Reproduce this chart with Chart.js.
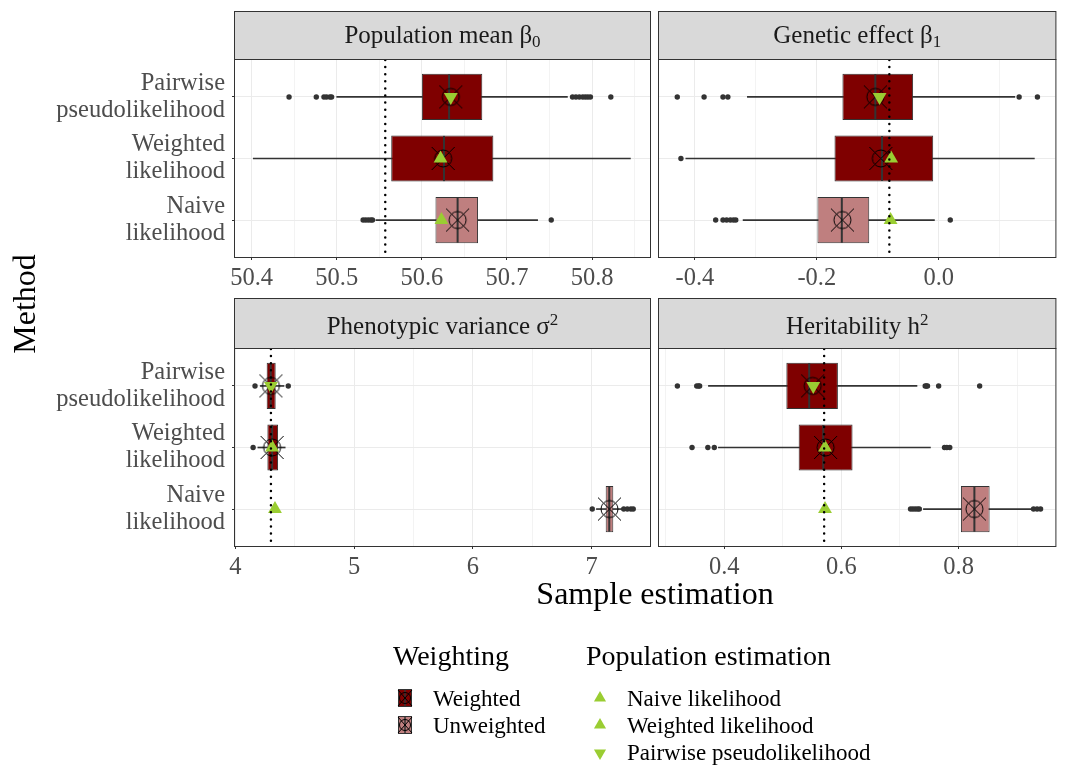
<!DOCTYPE html>
<html>
<head>
<meta charset="utf-8">
<script src="https://cdn.jsdelivr.net/npm/chart.js@4/dist/chart.umd.min.js"></script>
<style>
  html, body { margin: 0; padding: 0; width: 1067px; height: 767px; overflow: hidden; background: #ffffff; }
  .layer { position: absolute; left: 0; top: 0; width: 1080px; height: 767px; }
</style>
</head>
<body>
<div class="layer"><canvas id="panelBeta0"></canvas></div>
<div class="layer"><canvas id="panelBeta1"></canvas></div>
<div class="layer"><canvas id="panelSigma2"></canvas></div>
<div class="layer"><canvas id="panelH2"></canvas></div>
<script>
// ---- categories ----
const methodLabels = [['Pairwise', 'pseudolikelihood'], ['Weighted', 'likelihood'], ['Naive', 'likelihood']];
const methodWeighting = ['Weighted', 'Weighted', 'Unweighted'];
const methodPopulationShape = ['down', 'up', 'up'];
const rowPositions = [1, 2, 3];

// ---- Population mean beta0 ----
const b0Lower  = [50.500, 50.402, 50.546];
const b0Q1     = [50.600, 50.564, 50.616];
const b0Median = [50.632, 50.626, 50.642];
const b0Q3     = [50.671, 50.684, 50.666];
const b0Upper  = [50.771, 50.845, 50.736];
const b0Mean   = [50.634, 50.625, 50.642];
const b0Outliers = [
  [50.444, 50.476, 50.485, 50.488, 50.492, 50.494, 50.777, 50.781, 50.785, 50.789, 50.792, 50.795, 50.798, 50.822],
  [],
  [50.531, 50.534, 50.537, 50.540, 50.542, 50.752]
];
const b0Population = [50.634, 50.622, 50.623];
const b0True = 50.557;
const b0Ticks = [50.4, 50.5, 50.6, 50.7, 50.8];
const b0TickLabels = ['50.4', '50.5', '50.6', '50.7', '50.8'];
const b0MinorTicks = [50.45, 50.55, 50.65, 50.75, 50.85];

// ---- Genetic effect beta1 ----
const b1Lower  = [-0.314, -0.415, -0.321];
const b1Q1     = [-0.158, -0.171, -0.199];
const b1Median = [-0.104, -0.093, -0.159];
const b1Q3     = [-0.042, -0.009, -0.114];
const b1Upper  = [0.125, 0.157, -0.007];
const b1Mean   = [-0.104, -0.095, -0.158];
const b1Outliers = [
  [-0.429, -0.385, -0.354, -0.346, 0.132, 0.162],
  [-0.423],
  [-0.366, -0.354, -0.348, -0.342, -0.337, -0.333, 0.019]
];
const b1Population = [-0.097, -0.078, -0.079];
const b1True = -0.081;
const b1Ticks = [-0.4, -0.2, 0.0];
const b1TickLabels = ['-0.4', '-0.2', '0.0'];
const b1MinorTicks = [-0.3, -0.1, 0.1];

// ---- Phenotypic variance sigma^2 ----
const s2Lower  = [4.21, 4.19, 7.04];
const s2Q1     = [4.264, 4.270, 7.118];
const s2Median = [4.298, 4.310, 7.148];
const s2Q3     = [4.340, 4.360, 7.182];
const s2Upper  = [4.41, 4.42, 7.26];
const s2Mean   = [4.30, 4.31, 7.15];
const s2Outliers = [
  [4.166, 4.446],
  [4.150],
  [7.005, 7.270, 7.300, 7.330, 7.350]
];
const s2Population = [4.30, 4.31, 4.334];
const s2True = 4.30;
const s2Ticks = [4, 5, 6, 7];
const s2TickLabels = ['4', '5', '6', '7'];
const s2MinorTicks = [4.5, 5.5, 6.5];

// ---- Heritability h^2 ----
const h2Lower  = [0.373, 0.390, 0.740];
const h2Q1     = [0.506, 0.527, 0.804];
const h2Median = [0.545, 0.569, 0.827];
const h2Q3     = [0.594, 0.619, 0.853];
const h2Upper  = [0.729, 0.752, 0.926];
const h2Mean   = [0.551, 0.573, 0.827];
const h2Outliers = [
  [0.320, 0.353, 0.356, 0.358, 0.743, 0.745, 0.747, 0.766, 0.836],
  [0.345, 0.372, 0.383, 0.776, 0.780, 0.785],
  [0.718, 0.722, 0.726, 0.730, 0.733, 0.928, 0.934, 0.940]
];
const h2Population = [0.552, 0.572, 0.572];
const h2True = 0.5705;
const h2Ticks = [0.4, 0.6, 0.8];
const h2TickLabels = ['0.4', '0.6', '0.8'];
const h2MinorTicks = [0.3, 0.5, 0.7, 0.9];

// ---- legend ----
const weightingLevels = ['Weighted', 'Unweighted'];
const populationLevels = ['Naive likelihood', 'Weighted likelihood', 'Pairwise pseudolikelihood'];
const populationLevelShape = ['up', 'up', 'down'];

// ---- styling ----
const FONT = "'Liberation Serif', 'Times New Roman', serif";
const weightingColors = { Weighted: '#7F0000', Unweighted: '#BF7F7F' };
const populationColor = '#9ACD32';
const CANVAS_W = 1080, CANVAS_H = 767;
const X_AXIS_H = 40;

// mean marker: open circle with a cross through it
function makeMeanGlyph(r, arm) {
  const s = Math.ceil(arm * 2 + 4);
  const c = document.createElement('canvas');
  c.width = s; c.height = s;
  const g = c.getContext('2d');
  const m = s / 2;
  g.strokeStyle = '#000';
  g.lineWidth = 1;
  g.beginPath(); g.arc(m, m, r, 0, Math.PI * 2); g.stroke();
  g.beginPath();
  g.moveTo(m - arm, m - arm); g.lineTo(m + arm, m + arm);
  g.moveTo(m + arm, m - arm); g.lineTo(m - arm, m + arm);
  g.stroke();
  return c;
}
const meanGlyph = makeMeanGlyph(8.5, 11.5);

function drawRichText(ctx, parts, cx, baseline) {
  let total = 0;
  parts.forEach(p => {
    ctx.font = p.size + 'px ' + FONT;
    p.w = ctx.measureText(p.text).width;
    total += p.w;
  });
  let x = cx - total / 2;
  ctx.textAlign = 'left';
  ctx.textBaseline = 'alphabetic';
  parts.forEach(p => {
    ctx.font = p.size + 'px ' + FONT;
    ctx.fillText(p.text, x, baseline + p.dy);
    x += p.w;
  });
}

// strip header + panel border
const panelFrame = {
  id: 'panelFrame',
  afterDraw(chart, args, opts) {
    const { ctx, chartArea: a } = chart;
    ctx.save();
    const l = a.left - 0.5, r = a.right + 0.5;
    ctx.fillStyle = '#D9D9D9';
    ctx.fillRect(l, opts.stripTop, r - l, a.top - opts.stripTop);
    ctx.strokeStyle = '#333333';
    ctx.lineWidth = 1;
    ctx.strokeRect(l, opts.stripTop + 0.5, r - l, a.top - opts.stripTop - 1);
    ctx.strokeRect(l, a.top - 0.5, r - l, a.bottom - a.top + 1);
    ctx.fillStyle = '#1A1A1A';
    drawRichText(ctx, opts.title.map(p => Object.assign({}, p)), (a.left + a.right) / 2, opts.titleBaseline);
    ctx.restore();
  }
};

function triangle(ctx, cx, cy, r, down) {
  const s = down ? -1 : 1;
  ctx.beginPath();
  ctx.moveTo(cx, cy - s * r);
  ctx.lineTo(cx + r * Math.sin(Math.PI / 3), cy + s * r / 2);
  ctx.lineTo(cx - r * Math.sin(Math.PI / 3), cy + s * r / 2);
  ctx.closePath();
  ctx.fill();
}

// axis titles and the two legends
const pageDecor = {
  id: 'pageDecor',
  afterDraw(chart) {
    const ctx = chart.ctx;
    ctx.save();
    ctx.fillStyle = '#000';
    ctx.font = '32px ' + FONT;
    ctx.textAlign = 'center';
    ctx.textBaseline = 'alphabetic';
    ctx.fillText('Sample estimation', 655, 604);
    ctx.save();
    ctx.translate(35, 304);
    ctx.rotate(-Math.PI / 2);
    ctx.fillText('Method', 0, 0);
    ctx.restore();

    ctx.textAlign = 'left';
    ctx.font = '28px ' + FONT;
    ctx.fillText('Weighting', 393, 665);
    ctx.fillText('Population estimation', 586, 665);

    ctx.font = '23px ' + FONT;
    weightingLevels.forEach((lvl, i) => {
      const cy = 698 + i * 27, cx = 405;
      ctx.fillStyle = weightingColors[lvl];
      ctx.fillRect(cx - 7, cy - 9, 14, 18);
      ctx.strokeStyle = '#333';
      ctx.lineWidth = 1;
      ctx.strokeRect(cx - 6.5, cy - 8.5, 13, 17);
      ctx.lineWidth = 1.5;
      ctx.beginPath(); ctx.moveTo(cx, cy - 9); ctx.lineTo(cx, cy + 9); ctx.stroke();
      ctx.strokeStyle = '#000';
      ctx.lineWidth = 1;
      ctx.beginPath(); ctx.arc(cx, cy, 5.5, 0, Math.PI * 2); ctx.stroke();
      ctx.beginPath();
      ctx.moveTo(cx - 7, cy - 8); ctx.lineTo(cx + 7, cy + 8);
      ctx.moveTo(cx + 7, cy - 8); ctx.lineTo(cx - 7, cy + 8);
      ctx.stroke();
      ctx.fillStyle = '#000';
      ctx.fillText(lvl, 433, 706 + i * 27);
    });
    populationLevels.forEach((lvl, i) => {
      const cy = 698 + i * 27;
      ctx.fillStyle = populationColor;
      triangle(ctx, 600, populationLevelShape[i] === 'down' ? cy + 1 : cy, 7, populationLevelShape[i] === 'down');
      ctx.fillStyle = '#000';
      ctx.fillText(lvl, 627, 706 + i * 27);
    });
    ctx.restore();
  }
};

const panels = [
  { canvas: 'panelBeta0', title: [{ text: 'Population mean β', size: 25, dy: 0 }, { text: '0', size: 17, dy: 4 }],
    lower: b0Lower, q1: b0Q1, median: b0Median, q3: b0Q3, upper: b0Upper, mean: b0Mean, outliers: b0Outliers,
    population: b0Population, truth: b0True, ticks: b0Ticks, tickLabels: b0TickLabels, minor: b0MinorTicks,
    min: 50.3805, max: 50.868, frame: { left: 235, right: 650, top: 60, bottom: 257, stripTop: 11, titleBaseline: 43 }, showY: true },
  { canvas: 'panelBeta1', title: [{ text: 'Genetic effect β', size: 25, dy: 0 }, { text: '1', size: 17, dy: 4 }],
    lower: b1Lower, q1: b1Q1, median: b1Median, q3: b1Q3, upper: b1Upper, mean: b1Mean, outliers: b1Outliers,
    population: b1Population, truth: b1True, ticks: b1Ticks, tickLabels: b1TickLabels, minor: b1MinorTicks,
    min: -0.459, max: 0.1915, frame: { left: 659, right: 1074, top: 60, bottom: 257, stripTop: 11, titleBaseline: 43 }, showY: false },
  { canvas: 'panelSigma2', title: [{ text: 'Phenotypic variance σ', size: 25, dy: 0 }, { text: '2', size: 17, dy: -9 }],
    lower: s2Lower, q1: s2Q1, median: s2Median, q3: s2Q3, upper: s2Upper, mean: s2Mean, outliers: s2Outliers,
    population: s2Population, truth: s2True, ticks: s2Ticks, tickLabels: s2TickLabels, minor: s2MinorTicks,
    min: 3.9975, max: 7.491, frame: { left: 235, right: 650, top: 349, bottom: 546, stripTop: 298, titleBaseline: 334 }, showY: true },
  { canvas: 'panelH2', title: [{ text: 'Heritability h', size: 25, dy: 0 }, { text: '2', size: 17, dy: -9 }],
    lower: h2Lower, q1: h2Q1, median: h2Median, q3: h2Q3, upper: h2Upper, mean: h2Mean, outliers: h2Outliers,
    population: h2Population, truth: h2True, ticks: h2Ticks, tickLabels: h2TickLabels, minor: h2MinorTicks,
    min: 0.2886, max: 0.9653, frame: { left: 659, right: 1074, top: 349, bottom: 546, stripTop: 298, titleBaseline: 334 }, showY: false }
];

function isMajorTick(p, v) {
  return p.ticks.some(t => Math.abs(t - v) < 1e-9);
}

function buildDatasets(p) {
  return [
    { type: 'bar', label: 'whiskers', grouped: false, order: 7,
      data: rowPositions.map((y, i) => ({ x: [p.lower[i], p.upper[i]], y })),
      backgroundColor: '#333333', borderWidth: 0, barThickness: 1 },
    { type: 'bar', label: 'boxes', grouped: false, order: 6,
      data: rowPositions.map((y, i) => ({ x: [p.q1[i], p.q3[i]], y })),
      backgroundColor: methodWeighting.map(w => weightingColors[w]),
      borderColor: '#333333', borderWidth: 1, borderSkipped: false,
      barPercentage: 0.75, categoryPercentage: 1 },
    { type: 'scatter', label: 'median', order: 5,
      data: rowPositions.map((y, i) => ({ x: p.median[i], y })),
      pointStyle: 'line', pointRotation: 90, pointRadius: 22.6,
      pointBorderColor: '#333333', pointBorderWidth: 2 },
    { type: 'scatter', label: 'outliers', order: 4,
      data: p.outliers.flatMap((vals, i) => vals.map(v => ({ x: v, y: rowPositions[i] }))),
      pointStyle: 'circle', pointRadius: 2.7, pointBackgroundColor: '#333333', pointBorderWidth: 0 },
    { type: 'scatter', label: 'mean', order: 3,
      data: rowPositions.map((y, i) => ({ x: p.mean[i], y })),
      pointStyle: meanGlyph },
    { type: 'scatter', label: 'population', order: 2,
      data: rowPositions.map((y, i) => ({ x: p.population[i], y })),
      pointStyle: 'triangle', pointRadius: 8,
      pointRotation: methodPopulationShape.map(s => s === 'down' ? 180 : 0),
      pointBackgroundColor: populationColor, pointBorderWidth: 0 },
    { type: 'line', label: 'true value', order: 1,
      data: [{ x: p.truth, y: 0.4 }, { x: p.truth, y: 3.6 }],
      borderColor: '#000000', borderWidth: 2.5, borderDash: [0, 7.1], borderCapStyle: 'round',
      pointRadius: 0, fill: false }
  ];
}

panels.forEach((p, idx) => {
  const f = p.frame;
  const yW = p.showY ? 230 : 0;
  const allTicks = p.ticks.concat(p.minor).sort((a, b) => a - b);
  const plugins = [panelFrame];
  if (idx === panels.length - 1) plugins.push(pageDecor);
  new Chart(document.getElementById(p.canvas), {
    type: 'bar',
    data: { datasets: buildDatasets(p) },
    plugins,
    options: {
      indexAxis: 'y',
      responsive: true,
      maintainAspectRatio: false,
      animation: false,
      events: [],
      layout: { padding: { left: f.left - yW, top: f.top, right: CANVAS_W - f.right, bottom: CANVAS_H - f.bottom - X_AXIS_H } },
      plugins: {
        legend: { display: false },
        tooltip: { enabled: false },
        panelFrame: { stripTop: f.stripTop, titleBaseline: f.titleBaseline, title: p.title }
      },
      scales: {
        x: {
          type: 'linear', min: p.min, max: p.max, offset: false,
          afterBuildTicks: s => { s.ticks = allTicks.map(v => ({ value: v })); },
          afterFit: s => { s.height = X_AXIS_H; },
          border: { display: false },
          grid: {
            offset: false,
            color: c => isMajorTick(p, c.tick.value) ? '#EBEBEB' : '#F3F3F3',
            lineWidth: 1,
            tickLength: 3,
            tickColor: c => isMajorTick(p, c.tick.value) ? '#333333' : 'rgba(0,0,0,0)'
          },
          ticks: {
            autoSkip: false, maxRotation: 0, minRotation: 0, padding: 6,
            color: '#4D4D4D', font: { family: FONT, size: 24.5, lineHeight: 1 },
            callback: v => {
              const k = p.ticks.findIndex(t => Math.abs(t - v) < 1e-9);
              return k >= 0 ? p.tickLabels[k] : '';
            }
          }
        },
        y: {
          type: 'linear', min: 0.4, max: 3.6, reverse: true, offset: false,
          afterBuildTicks: s => { s.ticks = rowPositions.map(v => ({ value: v })); },
          afterFit: s => { s.width = yW; },
          border: { display: false },
          grid: { offset: false, color: '#EBEBEB', lineWidth: 1, drawTicks: p.showY, tickLength: 3, tickColor: '#333333' },
          ticks: {
            display: p.showY, autoSkip: false, padding: 7,
            color: '#4D4D4D', font: { family: FONT, size: 24.5, lineHeight: 1.1 },
            callback: (v, i) => methodLabels[i]
          }
        }
      }
    }
  });
});
</script>
</body>
</html>
